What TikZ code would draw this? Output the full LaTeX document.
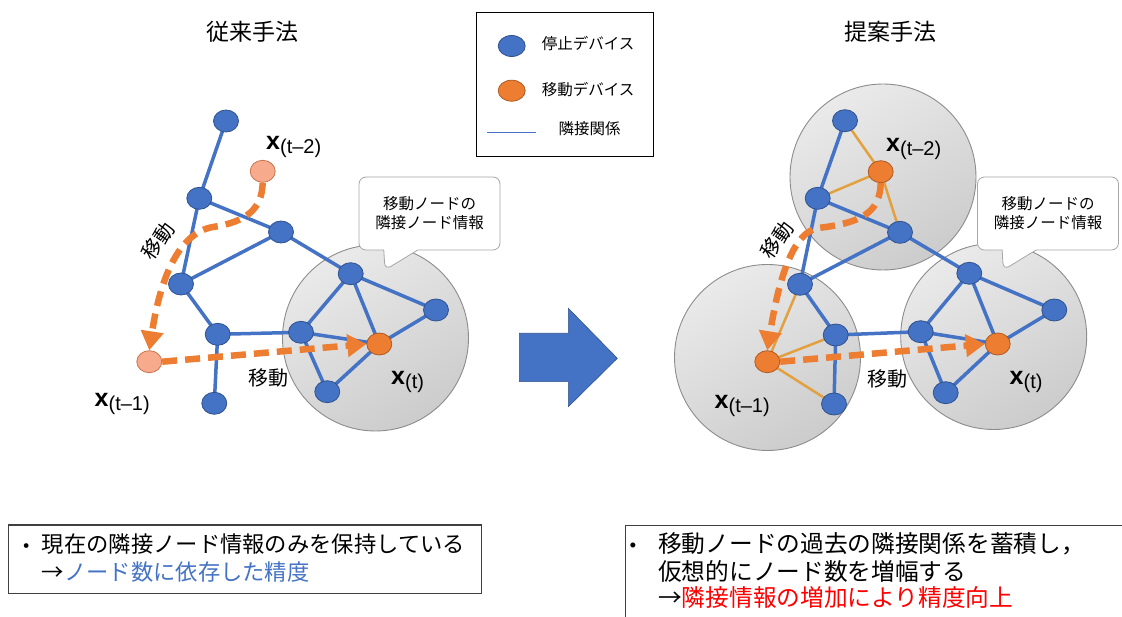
\documentclass[tikz,border=0pt]{standalone}
\usepackage{fontspec}
\setmainfont{Noto Sans CJK JP}
\newfontfamily\lat{Liberation Sans}
\usetikzlibrary{shapes.geometric,shapes.callouts,arrows.meta}
\definecolor{nblue}{HTML}{4472C4}
\definecolor{nblueb}{HTML}{2F528F}
\definecolor{norange}{HTML}{ED7D31}
\definecolor{norangeb}{HTML}{AE5A21}
\definecolor{nsalmon}{HTML}{F8AA8C}
\definecolor{nsalmonb}{HTML}{C8744E}
\definecolor{ledge}{HTML}{E2A03F}
\definecolor{zoneb}{HTML}{8C8C8C}
\definecolor{zonet}{HTML}{EAEAEA}
\definecolor{zonebot}{HTML}{CCCCCC}
\definecolor{boxb}{HTML}{404040}
\definecolor{callb}{HTML}{A6A6A6}
\definecolor{txtred}{HTML}{FF0000}
\newcommand\xlab[1]{{\lat\bfseries\fontsize{25}{25}\selectfont x}{\lat\fontsize{20}{20}\selectfont\raisebox{-4pt}{(#1)}}}
\begin{document}
\begin{tikzpicture}[x=1pt,y=-1pt,
  dev/.style={ellipse, minimum width=25pt, minimum height=22pt, inner sep=0pt, line width=0.8pt},
  stopdev/.style={dev, fill=nblue, draw=nblueb},
  movdev/.style={dev, fill=norange, draw=norangeb},
  pastdev/.style={dev, fill=nsalmon, draw=nsalmonb},
  adj/.style={draw=nblue, line width=3.5pt},
  oadj/.style={draw=ledge, line width=2.5pt},
  mv/.style={draw=norange, line width=6.5pt, dash pattern=on 15pt off 8pt, -{Triangle[width=22pt,length=19pt]}},
  zone/.style={circle, minimum size=186pt, inner sep=0pt, draw=zoneb, line width=0.9pt, top color=zonet, bottom color=zonebot, shading angle=30},
  callbox/.style={rectangle callout, draw=callb, fill=white, line width=0.8pt, rounded corners=7pt, minimum width=141pt, minimum height=73pt, inner sep=0pt, align=center, font=\fontsize{15.5}{19}\selectfont, callout pointer width=34pt},
  title/.style={inner sep=0pt, font=\fontsize{23}{23}\selectfont},
  lgtext/.style={inner sep=0pt, anchor=west, font=\fontsize{15.5}{15.5}\selectfont},
  mvtext/.style={inner sep=0pt, font=\fontsize{20}{20}\selectfont},
  xl/.style={inner sep=0pt, anchor=base west},
  ltext/.style={inner sep=0pt, anchor=west, font=\fontsize{22.3}{22.3}\selectfont},
  rtext/.style={inner sep=0pt, anchor=west, font=\fontsize{23.7}{23.7}\selectfont},
  ]
\useasboundingbox (0,0) rectangle (1122,617);
\clip (0,0) rectangle (1122,617);

% titles
\node[title] (t1) at (252.5,31.7) {従来手法};
\node[title] (t2) at (890,32) {提案手法};

% legend
\node[draw=black, line width=1.2pt, minimum width=176.6pt, minimum height=144pt, inner sep=0pt] (leg) at (565,84.7) {};
\node[stopdev, minimum width=27pt, minimum height=21pt] (lg1) at (511.7,46) {};
\node[lgtext] (lg1t) at (541.7,43.5) {停止デバイス};
\node[movdev, minimum width=27pt, minimum height=21pt] (lg2) at (511.7,90.7) {};
\node[lgtext] (lg2t) at (541.7,90) {移動デバイス};
\coordinate (lg3a) at (487,132.7);
\coordinate (lg3b) at (536,132.7);
\draw[draw=nblue, line width=1.3pt] (lg3a) -- (lg3b);
\node[lgtext] (lg3t) at (558.3,128.3) {隣接関係};

% big arrow
\fill[nblue, draw=nblueb, line width=0.6pt] (519.3,333.3) -- (568.3,333.3) -- (568.3,308.3) -- (617.3,358.3) -- (568.3,406.7) -- (568.3,381.7) -- (519.3,381.7) -- cycle;

% ================= left: conventional =================
\node[zone] (zl) at (375.5,338) {};
\node[callbox, callout absolute pointer={(385,270)}] (cl) at (429.5,213.5) {移動ノードの\\隣接ノード情報};

\coordinate (pA) at (226,121);
\coordinate (pB) at (199.3,198.3);
\coordinate (pC) at (281,232);
\coordinate (pD) at (181,284);
\coordinate (pE) at (217.7,334.3);
\coordinate (pF) at (214.3,403.3);
\coordinate (pG) at (350.7,273.7);
\coordinate (pH) at (436,310);
\coordinate (pI) at (301,332.3);
\coordinate (pX) at (379.3,344);
\coordinate (pK) at (327.3,391.7);

\draw[adj] (pA) -- (pB);
\draw[adj] (pB) -- (pC);
\draw[adj] (pB) -- (pD);
\draw[adj] (pC) -- (pD);
\draw[adj] (pC) -- (pG);
\draw[adj] (pD) -- (pE);
\draw[adj] (pE) -- (pF);
\draw[adj] (pE) -- (pI);
\draw[adj] (pI) -- (pG);
\draw[adj] (pG) -- (pX);
\draw[adj] (pG) -- (pH);
\draw[adj] (pH) -- (pX);
\draw[adj] (pI) -- (pX);
\draw[adj] (pI) -- (pK);
\draw[adj] (pK) -- (pX);

\node[stopdev] (nA) at (pA) {};
\node[stopdev] (nB) at (pB) {};
\node[stopdev] (nC) at (pC) {};
\node[stopdev] (nD) at (pD) {};
\node[stopdev] (nE) at (pE) {};
\node[stopdev] (nF) at (pF) {};
\node[stopdev] (nG) at (pG) {};
\node[stopdev] (nH) at (pH) {};
\node[stopdev] (nI) at (pI) {};
\node[stopdev] (nK) at (pK) {};
\node[movdev] (nX) at (pX) {};
\node[pastdev] (o2) at (262.7,171.3) {};
\node[pastdev] (o1) at (149.3,361.7) {};

\draw[mv] (o2.south) .. controls (262,210) and (245,222) .. (213,227) .. controls (178,233) and (160,280) .. (o1.north);
\draw[mv] (o1.east) -- (nX.west);

\node[xl] (lx2) at (266,150) {\xlab{t–2}};
\node[xl] (lx0) at (391,385) {\xlab{t}};
\node[xl] (lx1) at (94.5,406.7) {\xlab{t–1}};
\node[mvtext, rotate=55] (lm1) at (158,241) {移動};
\node[mvtext] (lm2) at (268,378) {移動};

% ================= right: proposed =================
\node[zone] (zr1) at (883,177) {};
\node[zone] (zr2) at (767.5,357.5) {};
\node[zone] (zr3) at (993.7,336.5) {};
\node[callbox, callout absolute pointer={(1003.3,270)}] (cr) at (1048,213.5) {移動ノードの\\隣接ノード情報};

\coordinate (qa) at (845,120.7);
\coordinate (qb) at (880.7,171.7);
\coordinate (qc) at (817.7,198.3);
\coordinate (qd) at (900,232.3);
\coordinate (qe) at (800,284.3);
\coordinate (qf) at (835.7,335);
\coordinate (qg) at (767.3,361.7);
\coordinate (qh) at (834,404);
\coordinate (qi) at (969.3,273.3);
\coordinate (qj) at (1054.3,310);
\coordinate (qk) at (920.7,331.7);
\coordinate (ql) at (997.7,344);
\coordinate (qm) at (945.7,392.7);

\draw[oadj] (qa) -- (qb);
\draw[oadj] (qb) -- (qc);
\draw[oadj] (qb) -- (qd);
\draw[oadj] (qg) -- (qe);
\draw[oadj] (qg) -- (qf);
\draw[oadj] (qg) -- (qh);

\draw[adj] (qa) -- (qc);
\draw[adj] (qc) -- (qd);
\draw[adj] (qc) -- (qe);
\draw[adj] (qd) -- (qe);
\draw[adj] (qd) -- (qi);
\draw[adj] (qe) -- (qf);
\draw[adj] (qf) -- (qh);
\draw[adj] (qf) -- (qk);
\draw[adj] (qk) -- (qi);
\draw[adj] (qi) -- (ql);
\draw[adj] (qi) -- (qj);
\draw[adj] (qj) -- (ql);
\draw[adj] (qk) -- (ql);
\draw[adj] (qk) -- (qm);
\draw[adj] (qm) -- (ql);

\node[stopdev] (ma) at (qa) {};
\node[stopdev] (mc) at (qc) {};
\node[stopdev] (md) at (qd) {};
\node[stopdev] (me) at (qe) {};
\node[stopdev] (mf) at (qf) {};
\node[stopdev] (mh) at (qh) {};
\node[stopdev] (mi) at (qi) {};
\node[stopdev] (mj) at (qj) {};
\node[stopdev] (mk) at (qk) {};
\node[stopdev] (mm) at (qm) {};
\node[movdev] (mb) at (qb) {};
\node[movdev] (mg) at (qg) {};
\node[movdev] (ml) at (ql) {};

\draw[mv] (mb.south) .. controls (880,212) and (862,223) .. (818,228) .. controls (790,233) and (777,290) .. (mg.north);
\draw[mv] (mg.east) -- (ml.west);

\node[xl] (rx2) at (886,151.7) {\xlab{t–2}};
\node[xl] (rx1) at (714.5,408.3) {\xlab{t–1}};
\node[xl] (rx0) at (1009.5,385) {\xlab{t}};
\node[mvtext, rotate=55] (rm1) at (777,240) {移動};
\node[mvtext] (rm2) at (887,379) {移動};

% ================= bottom boxes =================
\node[draw=boxb, line width=1.2pt, minimum width=473.4pt, minimum height=68.3pt, inner sep=0pt] (bl) at (245,559.2) {};
\node[inner sep=0pt, font=\fontsize{22.3}{22.3}\selectfont] (bld) at (26.7,549) {・};
\node[ltext] (bl1) at (41.7,544) {現在の隣接ノード情報のみを保持している};
\node[ltext] (bl2) at (41.7,572.5) {→\textcolor{nblue}{ノード数に依存した精度}};

\node[draw=boxb, line width=1.2pt, minimum width=520pt, minimum height=110pt, inner sep=0pt, anchor=north west] (br) at (625,525) {};
\node[inner sep=0pt, font=\fontsize{23.7}{23.7}\selectfont] (brd) at (633,549) {・};
\node[rtext] (br1) at (658,544) {移動ノードの過去の隣接関係を蓄積し，};
\node[rtext] (br2) at (658,571) {仮想的にノード数を増幅する};
\node[rtext] (br3) at (658,597.5) {→\textcolor{txtred}{隣接情報の増加により精度向上}};
\end{tikzpicture}
\end{document}
